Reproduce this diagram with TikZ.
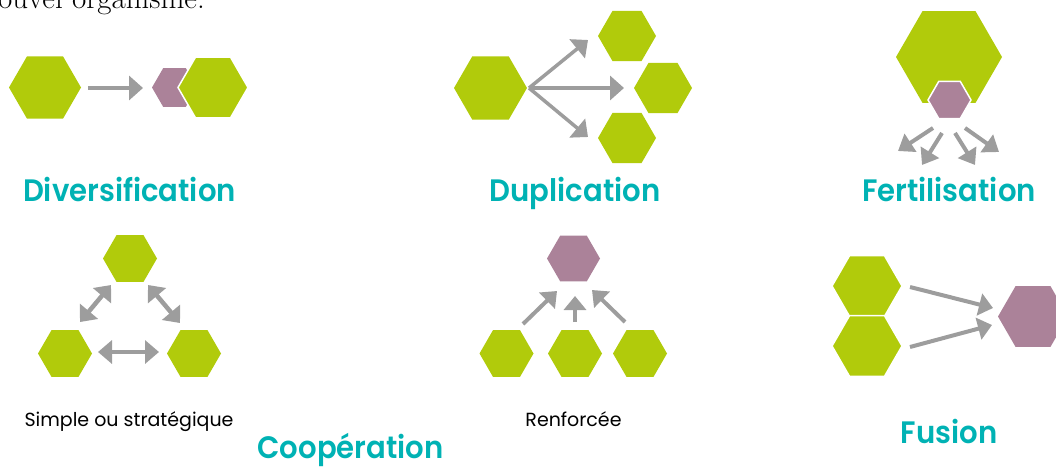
\documentclass[tikz,border=0pt]{standalone}
\usepackage{fontspec}
\setsansfont{Poppins}
\newfontfamily\titlefont{Poppins SemiBold}
\usetikzlibrary{shapes.geometric,arrows.meta}
\definecolor{hexgreen}{RGB}{177,203,11}
\definecolor{hexpurple}{RGB}{171,130,153}
\definecolor{arrowgray}{RGB}{157,157,157}
\definecolor{titleteal}{RGB}{0,178,180}
\newcommand{\ttl}[1]{\scalebox{0.94}[1]{#1}}
\tikzset{
  hexa/.style={regular polygon, regular polygon sides=6, inner sep=0pt, outer sep=0pt, minimum size=#1},
  greenhex/.style={hexa=#1, fill=hexgreen},
  purplehex/.style={hexa=#1, fill=hexpurple},
  whiteline/.style={draw=white, line width=1.5pt},
  arr/.style={draw=arrowgray, line width=4.5pt, -{Triangle[length=14pt,width=24pt]}},
  darr/.style={draw=arrowgray, line width=4.5pt, {Triangle[length=14pt,width=23pt]}-{Triangle[length=14pt,width=23pt]}},
  title/.style={anchor=base, inner sep=0pt, text=titleteal, font=\titlefont\fontsize{31}{36}\selectfont},
  sublabel/.style={anchor=base, inner sep=0pt, text=black, font=\sffamily\fontsize{19}{22}\selectfont},
}
\begin{document}
\begin{tikzpicture}[x=1pt,y=-1pt]
\useasboundingbox (0,0) rectangle (1056,468);
% cut-off text at top
\begin{scope}
\clip (0,0) rectangle (1056,468);
\node[anchor=base east, inner sep=0pt, font=\fontsize{31}{34}\selectfont] (toptext) at (205,9) {nouvel organisme.};
\end{scope}

% ---- Diversification ----
\node[greenhex=72pt] (d1) at (45,87.5) {};
\node[purplehex=45pt] (d2) at (174.5,87.5) {};
\node[greenhex=70pt, whiteline] (d3) at (213,87.5) {};
\coordinate (d1s) at (88,88);
\coordinate (d1e) at (143,88);
\draw[arr] (d1s) -- (d1e);
\node[title] (tdiv) at (129.5,201) {\ttl{Diversification}};

% ---- Duplication ----
\node[greenhex=73pt] (u0) at (490.5,88) {};
\node[greenhex=58pt] (u1) at (627,36) {};
\node[greenhex=58pt] (u2) at (663,88) {};
\node[greenhex=58pt] (u3) at (627,138) {};
\coordinate (us) at (529,88);
\coordinate (ue1) at (588,40);
\coordinate (ue2) at (624,88);
\coordinate (ue3) at (588,137);
\draw[arr, line width=3.5pt] (us) -- (ue1);
\draw[arr, line width=3.5pt] (us) -- (ue2);
\draw[arr, line width=3.5pt] (us) -- (ue3);
\node[title] (tdup) at (575,201) {\ttl{Duplication}};

% ---- Fertilisation ----
\node[greenhex=106pt] (f0) at (949,57) {};
\node[purplehex=43pt, whiteline] (f1) at (949.5,100) {};
\coordinate (fs1) at (933,128);
\coordinate (fe1) at (898,151);
\coordinate (fs2) at (942,133);
\coordinate (fe2) at (922,165);
\coordinate (fs3) at (955,133);
\coordinate (fe3) at (975,165);
\coordinate (fs4) at (965,128);
\coordinate (fe4) at (999,152);
\begin{scope}[every path/.style={arr, line width=4pt, -{Triangle[length=15pt,width=21pt]}}]
\draw (fs1) -- (fe1);
\draw (fs2) -- (fe2);
\draw (fs3) -- (fe3);
\draw (fs4) -- (fe4);
\end{scope}
\node[title] (tfer) at (949,201) {\ttl{Fertilisation}};

% ---- Coopération simple ----
\node[greenhex=54pt] (c1) at (130,258.5) {};
\node[greenhex=54pt] (c2) at (65,353.5) {};
\node[greenhex=54pt] (c3) at (194,353.5) {};
\coordinate (ca1) at (80,322);
\coordinate (ca2) at (111,285);
\coordinate (cb1) at (148,285);
\coordinate (cb2) at (180,323);
\coordinate (cc1) at (98,352);
\coordinate (cc2) at (159,352);
\draw[darr] (ca1) -- (ca2);
\draw[darr] (cb1) -- (cb2);
\draw[darr] (cc1) -- (cc2);
\node[sublabel] (tsimple) at (129,426) {Simple ou stratégique};

% ---- Coopération renforcée ----
\node[purplehex=53pt] (r0) at (573.5,258.5) {};
\node[greenhex=54pt] (r1) at (506.5,353.5) {};
\node[greenhex=54pt] (r2) at (575,353.5) {};
\node[greenhex=54pt] (r3) at (640,353.5) {};
\coordinate (rs1) at (523,324);
\coordinate (re1) at (557,291);
\coordinate (rs2) at (575,322);
\coordinate (re2) at (575,296);
\coordinate (rs3) at (625,322);
\coordinate (re3) at (592,290);
\draw[arr, line width=4pt, -{Triangle[length=14pt,width=22pt]}] (rs1) -- (re1);
\draw[arr, line width=4pt, -{Triangle[length=14pt,width=22pt]}] (rs2) -- (re2);
\draw[arr, line width=4pt, -{Triangle[length=14pt,width=22pt]}] (rs3) -- (re3);
\node[sublabel] (trenf) at (573.5,426) {Renforcée};
\node[title] (tcoop) at (350.5,458.5) {\ttl{Coopération}};

% ---- Fusion ----
\node[greenhex=70pt, whiteline] (g1) at (867,286) {};
\node[greenhex=70pt, whiteline] (g2) at (867,346) {};
\node[purplehex=70pt] (g3) at (1033,316.5) {};
\coordinate (gs1) at (910,287);
\coordinate (ge1) at (993,308);
\coordinate (gs2) at (910,347);
\coordinate (ge2) at (992,325);
\draw[arr, line width=4pt, -{Triangle[length=14pt,width=22pt]}] (gs1) -- (ge1);
\draw[arr, line width=4pt, -{Triangle[length=14pt,width=22pt]}] (gs2) -- (ge2);
\node[title] (tfus) at (949,443) {\ttl{Fusion}};
\end{tikzpicture}
\end{document}
